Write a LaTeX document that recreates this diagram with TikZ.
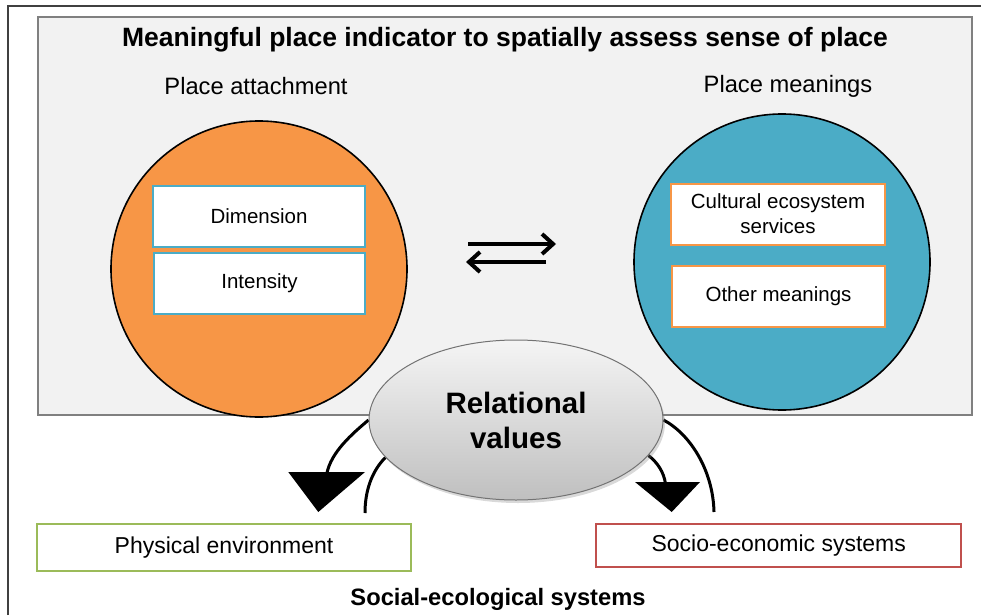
\documentclass[tikz,border=0pt]{standalone}
\usepackage{fontspec}
\setmainfont{Liberation Sans}
\usetikzlibrary{arrows.meta,shapes.geometric,shadows,backgrounds}
\definecolor{attachorange}{HTML}{F79646}
\definecolor{meaningblue}{HTML}{4BACC6}
\definecolor{envgreen}{HTML}{9BBB59}
\definecolor{socred}{HTML}{C0504D}
\definecolor{panelgray}{HTML}{F2F2F2}
\begin{document}
\begin{tikzpicture}[x=1pt,y=-1pt,
	ring/.style={circle,draw=black,line width=1.6pt,fill=#1,minimum size=296pt,inner sep=0pt},
	inbox/.style={draw=#1,line width=2pt,fill=white,inner sep=0pt,align=center,font=\fontsize{20.5}{25}\selectfont},
	sysbox/.style={draw=#1,line width=2pt,fill=white,inner sep=0pt,font=\fontsize{23}{28}\selectfont},
	loop/.style={line width=3pt}]
	\useasboundingbox (0,0) rectangle (992,615);
	%	\draw[color=gray,dash pattern=on 1pt off 1pt,step=50pt] (0,0) grid (992,615);
	\draw[black!75,line width=2pt] (8,615) -- (8,6) -- (981,6);
	\draw[draw=black!50,fill=panelgray,line width=2pt] (38,17) rectangle (972,415);
	\node[font=\bfseries\fontsize{26.5}{30}\selectfont] (title) at (505,40) {Meaningful place indicator to spatially assess sense of place};
	\node[font=\fontsize{23.7}{28}\selectfont] (attachlbl) at (256,86) {Place attachment};
	\node[font=\fontsize{23.7}{28}\selectfont] (meaninglbl) at (788,86) {Place meanings};
	% the two circles
	\node[ring=attachorange] (attach) at (259,269) {};
	\node[ring=meaningblue] (meaning) at (782,262) {};
	\node[inbox=meaningblue,minimum width=212pt,minimum height=61pt] (dim) at (259,216.5) {Dimension};
	\node[inbox=meaningblue,minimum width=211pt,minimum height=61pt] (inten) at (259.5,283.5) {Intensity};
	\node[inbox=attachorange,minimum width=214pt,minimum height=61pt] (ces) at (778,214) {Cultural ecosystem\\services};
	\node[inbox=attachorange,minimum width=213pt,minimum height=61pt] (other) at (778.5,296) {Other meanings};
	% exchange arrows
	\coordinate (fwdA) at (468,244);
	\coordinate (fwdB) at (556,244);
	\coordinate (backA) at (546,262);
	\coordinate (backB) at (466,262);
	\draw[line width=4pt,-{Straight Barb[length=11pt,width=20pt]}] (fwdA) -- (fwdB);
	\draw[line width=4pt,-{Straight Barb[length=11pt,width=20pt]}] (backA) -- (backB);
	% relational values
	\node[ellipse,draw=black!55,line width=1pt,top color=gray!8,bottom color=gray!50,
		drop shadow={opacity=0.3,shadow xshift=2pt,shadow yshift=-3pt},
		minimum width=294pt,minimum height=160pt,align=center,
		font=\bfseries\fontsize{29.5}{35}\selectfont] (relval) at (516,420) {Relational\\values};
	\node[sysbox=envgreen,minimum width=374pt,minimum height=47pt] (phys) at (224,547.5) {Physical environment};
	\node[sysbox=socred,minimum width=365pt,minimum height=43pt] (socio) at (778.7,545.5) {Socio-economic systems};
	\node[font=\bfseries\fontsize{23.7}{28}\selectfont] (ses) at (498,599) {Social-ecological systems};
	% loops behind the ellipse, with their big heads
	\coordinate (leftbase) at (326.7,472);
	\coordinate (leftfoot) at (365,513);
	\coordinate (rightfoot) at (714,512);
	\coordinate (rightbase) at (665.5,482);
	\begin{scope}[on background layer]
		\draw[loop] (relval.west) .. controls (352,434) and (331,452) .. ([yshift=-2pt]leftbase);
		\draw[loop] (relval.196) .. controls (371,472) and (365,492) .. (leftfoot);
		\draw[loop] (relval.east) .. controls (690,434) and (713,470) .. (rightfoot);
		\draw[loop] (relval.-15) .. controls (657,462) and (664,472) .. ([yshift=-2pt]rightbase);
	\end{scope}
	\fill (leftbase) ++(-38.4,0) -- ++(76.7,0) -- (318.3,512) -- cycle;
	\fill (rightbase) ++(-30.5,0) -- ++(65,0) -- (671.7,512) -- cycle;
\end{tikzpicture}
\end{document}
